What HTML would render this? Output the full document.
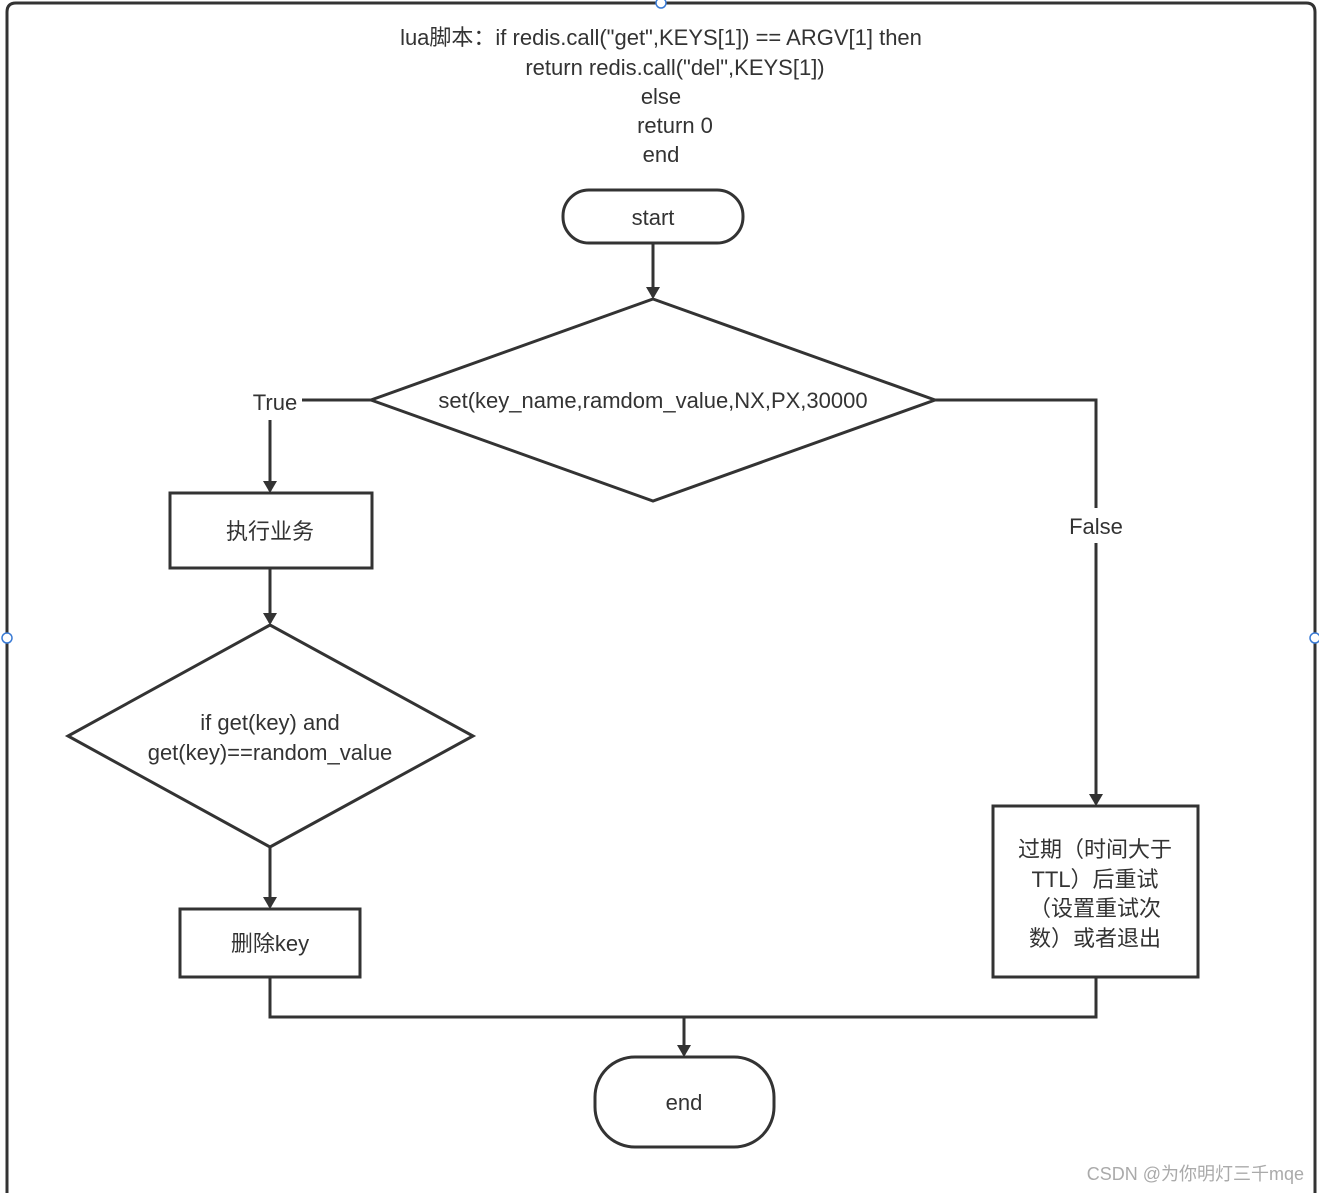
<!DOCTYPE html>
<html><head><meta charset="utf-8"><style>
html,body{margin:0;padding:0;background:#fff;}
svg{display:block;}
text{font-family:"Liberation Sans","Noto Sans CJK SC",sans-serif;font-size:22px;fill:#333;}
</style></head><body>
<svg width="1319" height="1193" viewBox="0 0 1319 1193" xmlns="http://www.w3.org/2000/svg">
<defs>
<marker id="a" markerWidth="12" markerHeight="14" refX="10" refY="7" orient="auto" markerUnits="userSpaceOnUse">
<path d="M0,0 L12,7 L0,14 Z" fill="#333"/>
</marker>
</defs>
<rect x="0" y="0" width="1319" height="1193" fill="#fff"/>
<path d="M7,1193 L7,12 Q7,3 16,3 L1306,3 Q1315,3 1315,12 L1315,1193" fill="none" stroke="#333" stroke-width="3"/>
<circle cx="661" cy="3" r="5" fill="#fff" stroke="#3a7bd5" stroke-width="1.5"/>
<circle cx="7" cy="638" r="5" fill="#fff" stroke="#3a7bd5" stroke-width="1.5"/>
<circle cx="1315" cy="638" r="5" fill="#fff" stroke="#3a7bd5" stroke-width="1.5"/>

<g text-anchor="middle">
<text x="661" y="45">lua脚本：if redis.call("get",KEYS[1]) == ARGV[1] then</text>
<text x="675" y="75">return redis.call("del",KEYS[1])</text>
<text x="661" y="104">else</text>
<text x="675" y="133">return 0</text>
<text x="661" y="162">end</text>
</g>

<g fill="none" stroke="#333" stroke-width="3">
<rect x="563" y="190" width="180" height="53" rx="26"/>
<polygon points="653,299 935,400 653,501 371,400" fill="#fff"/>
<rect x="170" y="493" width="202" height="75"/>
<polygon points="270,625 473,736 270,847 68,736" fill="#fff"/>
<rect x="180" y="909" width="180" height="68"/>
<rect x="993" y="806" width="205" height="171"/>
<rect x="595" y="1057" width="179" height="90" rx="40"/>

<line x1="653" y1="243" x2="653" y2="297" marker-end="url(#a)"/>
<line x1="371" y1="400" x2="302" y2="400"/>
<line x1="270" y1="420" x2="270" y2="491" marker-end="url(#a)"/>
<line x1="270" y1="568" x2="270" y2="623" marker-end="url(#a)"/>
<line x1="270" y1="847" x2="270" y2="907" marker-end="url(#a)"/>
<polyline points="935,400 1096,400 1096,508"/>
<line x1="1096" y1="543" x2="1096" y2="804" marker-end="url(#a)"/>
<polyline points="270,977 270,1017 1096,1017 1096,977"/>
<line x1="684" y1="1017" x2="684" y2="1055" marker-end="url(#a)"/>
</g>

<g text-anchor="middle">
<text x="653" y="225">start</text>
<text x="653" y="408">set(key_name,ramdom_value,NX,PX,30000</text>
<text x="275" y="410">True</text>
<text x="1096" y="534">False</text>
<text x="270" y="539">执行业务</text>
<text x="270" y="730">if get(key) and</text>
<text x="270" y="760">get(key)==random_value</text>
<text x="270" y="951">删除key</text>
<text x="1095" y="857">过期（时间大于</text>
<text x="1095" y="887">TTL）后重试</text>
<text x="1095" y="916">（设置重试次</text>
<text x="1095" y="946">数）或者退出</text>
<text x="684" y="1110">end</text>
</g>
<text x="1304" y="1180" text-anchor="end" style="font-size:18px;fill:#aaa;">CSDN @为你明灯三千mqe</text>
</svg>
</body></html>
